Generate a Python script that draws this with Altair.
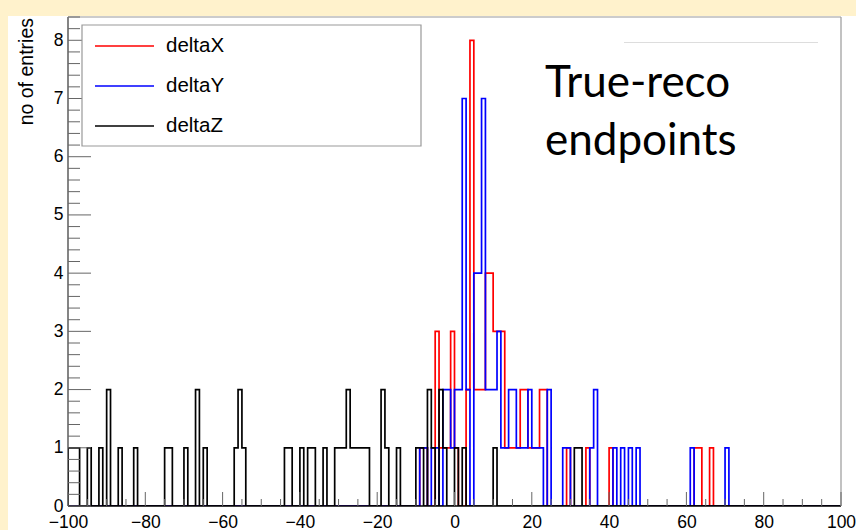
import altair as alt
import pandas as pd

# ---------------- data: bin left edges (bin width = 1) and entries ----------------
dx_bins = [-9, -8, -5, -4, -3, -2, -1, 0, 3, 4, 5, 6, 7, 8, 9, 10, 11, 12, 13, 14, 15, 16, 17, 18, 19,
           20, 21, 22, 23, 29, 34, 40, 62, 63, 66]
dx_counts = [1, 1, 3, 1, 1, 1, 3, 1, 2, 8, 2, 2, 2, 4, 4, 3, 3, 3, 1, 1, 1, 1, 2, 2, 1,
             1, 1, 2, 2, 1, 1, 1, 1, 1, 1]

dy_bins = [-9, -8, -6, -5, -3, -2, -1, 0, 1, 2, 3, 5, 6, 7, 8, 9, 10, 11, 12, 13, 14, 15, 16, 17, 18,
           19, 20, 21, 22, 24, 28, 29, 35, 36, 41, 43, 45, 47, 61, 70]
dy_counts = [1, 1, 1, 1, 2, 2, 1, 2, 2, 7, 2, 4, 4, 7, 2, 2, 2, 3, 1, 1, 2, 2, 1, 1, 1,
             2, 1, 1, 1, 2, 1, 1, 1, 2, 1, 1, 1, 1, 1, 1]

dz_bins = [-100, -99, -98, -95, -92, -90, -87, -83, -75, -74, -70, -67, -65, -57, -56, -55,
           -44, -43, -40, -38, -37, -34, -31, -30, -29, -28, -27, -26, -25, -24, -23,
           -19, -18, -15, -10, -9, -7, -6, -4, -3, 0, 2, 10, 31, 32]
dz_counts = [1, 1, 1, 1, 1, 2, 1, 1, 1, 1, 1, 2, 1, 1, 2, 1,
             1, 1, 1, 1, 1, 1, 1, 1, 1, 2, 1, 1, 1, 1, 1,
             2, 1, 1, 1, 1, 2, 1, 2, 1, 1, 1, 1, 1, 1]

series_names = ["deltaX", "deltaY", "deltaZ"]
series_colors = ["#ff0000", "#0000ff", "#000000"]

x_ticks = [-100, -80, -60, -40, -20, 0, 20, 40, 60, 80, 100]
y_ticks = [0, 1, 2, 3, 4, 5, 6, 7, 8]
title_lines = ["True-reco", "endpoints"]
y_title = "no of entries"

X_MIN, X_MAX = -100, 100
Y_MAX = 8.4
W, H = 773, 489


def outline(bins, counts, name):
    h = dict(zip(bins, counts))
    rows = []
    prev = 0
    for e in range(X_MIN, X_MAX + 1):
        c = h.get(e, 0) if e < X_MAX else 0
        rows.append((e, prev))
        rows.append((e, c))
        prev = c
    return pd.DataFrame([{"x": x, "y": y, "series": name, "order": i}
                         for i, (x, y) in enumerate(rows)])


xs = alt.Scale(domain=[X_MIN, X_MAX], nice=False, zero=False)
ys = alt.Scale(domain=[0, Y_MAX], nice=False)

xax = alt.Axis(values=x_ticks, domain=False, ticks=False, grid=False, title=None,
               labelFont="Liberation Sans", labelFontSize=17.5, labelColor="black",
               labelPadding=7, labelFlush=False, labelOverlap=False, zindex=2)
yax = alt.Axis(values=y_ticks, domain=False, ticks=False, grid=False, title=None,
               labelFont="Liberation Sans", labelFontSize=17.5, labelColor="black",
               labelPadding=5, labelOverlap=False, zindex=2)

panel = alt.Chart(pd.DataFrame({"a": [0]})).mark_rect(fill="white").encode(
    x=alt.value(-60), x2=alt.value(788), y=alt.value(-1), y2=alt.value(513))


def hist_layer(df, color):
    return alt.Chart(df).mark_line(color=color, strokeWidth=1.7, clip=True,
                                   interpolate="linear").encode(
        x=alt.X("x:Q", scale=xs, axis=xax),
        y=alt.Y("y:Q", scale=ys, axis=yax),
        order="order:Q")


hx = hist_layer(outline(dx_bins, dx_counts, "deltaX"), series_colors[0])
hy = hist_layer(outline(dy_bins, dy_counts, "deltaY"), series_colors[1])
hz = hist_layer(outline(dz_bins, dz_counts, "deltaZ"), series_colors[2])

# ticks (drawn inward, ROOT style)
xt_major = pd.DataFrame({"x": x_ticks})
xt_minor = pd.DataFrame({"x": [v for v in range(-95, 100, 5) if v % 20 != 0]})
yt_major = pd.DataFrame({"y": y_ticks})
yt_minor = pd.DataFrame({"y": [round(i * 0.2, 2) for i in range(0, 43) if i % 5 != 0]})

tick_col = "#666666"
xtm = alt.Chart(xt_major).mark_rule(color=tick_col, strokeWidth=1).encode(
    x=alt.X("x:Q", scale=xs, axis=xax), y=alt.value(H), y2=alt.value(H - 14))
xtn = alt.Chart(xt_minor).mark_rule(color=tick_col, strokeWidth=1).encode(
    x=alt.X("x:Q", scale=xs, axis=xax), y=alt.value(H), y2=alt.value(H - 7))
ytm = alt.Chart(yt_major).mark_rule(color=tick_col, strokeWidth=1).encode(
    y=alt.Y("y:Q", scale=ys, axis=yax), x=alt.value(0), x2=alt.value(23))
ytn = alt.Chart(yt_minor).mark_rule(color=tick_col, strokeWidth=1).encode(
    y=alt.Y("y:Q", scale=ys, axis=yax), x=alt.value(0), x2=alt.value(12))

one = pd.DataFrame({"a": [0]})
frame_top = alt.Chart(one).mark_rule(color="#999999", strokeWidth=1.2).encode(
    x=alt.value(0), x2=alt.value(W), y=alt.value(0))
frame_right = alt.Chart(one).mark_rule(color="#999999", strokeWidth=1.2).encode(
    x=alt.value(W), y=alt.value(0), y2=alt.value(H))
axis_left = alt.Chart(one).mark_rule(color="#333333", strokeWidth=1.2).encode(
    x=alt.value(0), y=alt.value(0), y2=alt.value(H))
axis_bottom = alt.Chart(one).mark_rule(color="#000000", strokeWidth=1.5).encode(
    x=alt.value(0), x2=alt.value(W), y=alt.value(H))

# legend box
leg_box = alt.Chart(one).mark_rect(fill="white", stroke="#999999", strokeWidth=1.2).encode(
    x=alt.value(14), x2=alt.value(353), y=alt.value(8), y2=alt.value(129))
leg_df = pd.DataFrame({"name": series_names, "color": series_colors,
                       "ypos": [29, 69, 109]})
leg_lines = alt.Chart(leg_df).mark_rule(strokeWidth=1.7).encode(
    x=alt.value(27), x2=alt.value(86), y=alt.Y("ypos:Q", scale=None),
    color=alt.Color("color:N", scale=None))
leg_text = alt.Chart(leg_df).mark_text(align="left", baseline="middle", font="Liberation Sans",
                                       fontSize=20.5, color="black").encode(
    x=alt.value(98), y=alt.Y("ypos:Q", scale=None), text="name:N")

# annotation text
ann_df = pd.DataFrame({"t": title_lines, "ypos": [80, 138]})
ann = alt.Chart(ann_df).mark_text(align="left", baseline="alphabetic", font="Lato",
                                  fontSize=44, color="black").encode(
    x=alt.value(477), y=alt.Y("ypos:Q", scale=None), text="t:N")
faint = alt.Chart(one).mark_rule(color="#dddddd", strokeWidth=1).encode(
    x=alt.value(556), x2=alt.value(750), y=alt.value(25.5))

ytitle = alt.Chart(pd.DataFrame({"t": [y_title]})).mark_text(
    angle=270, align="right", baseline="middle", font="Liberation Sans", fontSize=19.5,
    color="black").encode(x=alt.value(-41), y=alt.value(1), text="t:N")

chart = alt.layer(
    panel, hx, hy, hz, axis_bottom, axis_left, frame_top, frame_right,
    xtm, xtn, ytm, ytn, leg_box, leg_lines, leg_text, ann, faint, ytitle
).properties(
    width=W, height=H,
    autosize=alt.AutoSizeParams(type="none"),
    padding={"left": 68, "top": 17, "right": 15, "bottom": 24},
    background="#FFF2CC",
).configure_view(stroke=None)

chart.save("out.html", embed_options={"renderer": "svg", "actions": False})
